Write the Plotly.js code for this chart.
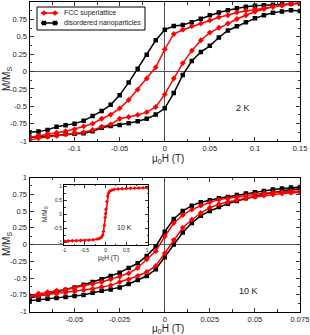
<!DOCTYPE html>
<html><head><meta charset="utf-8">
<script src="https://cdn.plot.ly/plotly-3.0.1.min.js"></script>
<style>html,body{margin:0;padding:0;background:#fff}#c{width:310px;height:335px}</style>
</head><body><div id="c"></div>
<script>
// ---------- DATA ----------
// 2 K panel: field values (T)
const h2Desc = [0.15,0.14,0.13,0.12,0.11,0.10,0.09,0.08,0.07,0.06,0.05,0.04,0.03,0.02,0.01,0.00,-0.01,-0.02,-0.03,-0.04,-0.05,-0.06,-0.07,-0.08,-0.09,-0.10,-0.11,-0.12,-0.13,-0.14,-0.15];
const h2Asc = [-0.15,-0.14,-0.13,-0.12,-0.11,-0.10,-0.09,-0.08,-0.07,-0.06,-0.05,-0.04,-0.03,-0.02,-0.01,0.00,0.01,0.02,0.03,0.04,0.05,0.06,0.07,0.08,0.09,0.10,0.11,0.12,0.13,0.14,0.15];
// FCC superlattice, 2 K
const fcc2Desc = [0.99,0.97,0.95,0.93,0.915,0.90,0.88,0.85,0.81,0.78,0.735,0.69,0.65,0.60,0.54,0.32,0.06,-0.10,-0.26,-0.41,-0.53,-0.62,-0.68,-0.75,-0.79,-0.83,-0.86,-0.88,-0.90,-0.925,-0.95];
const fcc2Asc = [-0.985,-0.96,-0.94,-0.925,-0.905,-0.89,-0.875,-0.84,-0.795,-0.76,-0.68,-0.655,-0.625,-0.585,-0.51,-0.33,-0.10,0.12,0.30,0.45,0.56,0.63,0.69,0.755,0.81,0.86,0.90,0.93,0.955,0.975,0.99];
// disordered nanoparticles, 2 K
const dis2Desc = [0.98,0.975,0.97,0.96,0.955,0.945,0.93,0.91,0.88,0.85,0.81,0.76,0.71,0.67,0.655,0.60,0.45,0.24,0.04,-0.16,-0.34,-0.48,-0.57,-0.64,-0.71,-0.75,-0.775,-0.795,-0.84,-0.865,-0.875];
const dis2Asc = [-0.95,-0.94,-0.93,-0.915,-0.90,-0.895,-0.89,-0.86,-0.81,-0.785,-0.77,-0.745,-0.715,-0.68,-0.62,-0.53,-0.31,-0.05,0.15,0.28,0.37,0.49,0.59,0.65,0.71,0.765,0.81,0.845,0.865,0.88,0.87];

// 10 K panel: field values (T)
const h10Desc = [0.075,0.07,0.065,0.06,0.055,0.05,0.045,0.04,0.035,0.03,0.025,0.02,0.015,0.01,0.005,0.0,-0.005,-0.01,-0.015,-0.02,-0.025,-0.03,-0.035,-0.04,-0.045,-0.05,-0.055,-0.06,-0.065,-0.07,-0.075];
const h10Asc = [-0.075,-0.07,-0.065,-0.06,-0.055,-0.05,-0.045,-0.04,-0.035,-0.03,-0.025,-0.02,-0.015,-0.01,-0.005,0.0,0.005,0.01,0.015,0.02,0.025,0.03,0.035,0.04,0.045,0.05,0.055,0.06,0.065,0.07,0.075];
const fcc10Desc = [0.80,0.795,0.785,0.775,0.765,0.75,0.73,0.71,0.69,0.67,0.63,0.58,0.52,0.44,0.32,0.12,-0.10,-0.22,-0.35,-0.43,-0.48,-0.52,-0.56,-0.59,-0.62,-0.65,-0.67,-0.69,-0.71,-0.73,-0.76];
const fcc10Asc = [-0.78,-0.765,-0.75,-0.735,-0.72,-0.70,-0.68,-0.66,-0.635,-0.61,-0.56,-0.52,-0.47,-0.41,-0.32,-0.13,0.07,0.25,0.37,0.47,0.55,0.60,0.635,0.665,0.69,0.71,0.73,0.745,0.76,0.77,0.78];
const dis10Desc = [0.86,0.85,0.835,0.82,0.80,0.78,0.76,0.74,0.71,0.69,0.66,0.63,0.58,0.50,0.38,0.19,-0.03,-0.17,-0.28,-0.35,-0.42,-0.47,-0.52,-0.56,-0.60,-0.64,-0.68,-0.71,-0.74,-0.77,-0.80];
const dis10Asc = [-0.84,-0.825,-0.81,-0.80,-0.785,-0.77,-0.755,-0.72,-0.69,-0.67,-0.64,-0.59,-0.53,-0.47,-0.37,-0.19,0.0,0.18,0.32,0.43,0.50,0.56,0.61,0.65,0.69,0.72,0.75,0.78,0.80,0.82,0.83];

// inset (10 K, wide field range)
const hInset = [-1,-0.9,-0.8,-0.7,-0.6,-0.5,-0.4,-0.3,-0.2,-0.15,-0.1,-0.07,-0.05,-0.03,-0.01,0,0.01,0.03,0.05,0.07,0.1,0.15,0.2,0.3,0.4,0.5,0.6,0.7,0.8,0.9,1];
const mInset = [-0.96,-0.955,-0.95,-0.945,-0.94,-0.935,-0.925,-0.91,-0.89,-0.87,-0.82,-0.75,-0.62,-0.40,-0.12,0.02,0.18,0.45,0.64,0.75,0.82,0.86,0.88,0.90,0.91,0.92,0.925,0.93,0.935,0.94,0.945];

// tick labels
const yTickVals = [-1,-0.75,-0.5,-0.25,0,0.25,0.5,0.75,1];
const yTickText = ["-1","-0.75","-0.5","-0.25","0","0.25","0.5","0.75","1"];
const x2TickVals = [-0.1,-0.05,0,0.05,0.1,0.15];
const x2TickText = ["-0.1","-0.05","0","0.05","0.1","0.15"];
const x10TickVals = [-0.05,-0.025,0,0.025,0.05,0.075];
const x10TickText = ["-0.05","-0.025","0","0.025","0.05","0.075"];
const inXVals = [-1,-0.5,0,0.5,1];
const inXText = ["-1","-0.5","0","0.5","1"];
const inYVals = [-1,-0.5,0,0.5,1];
const inYText = ["-1","-0.5","0","0.5","1"];
const seriesNames = ["FCC superlattice","disordered nanoparticles"];

// ---------- LAYOUT ----------
const W = 310, H = 335;
const px = v => v / W;
const py = v => 1 - v / H;
const FONT = "Liberation Sans, Arial, sans-serif";
const RED = "#ff0000", BLACK = "#000000";

function loop(hd, md, ha, ma) { return {x: hd.concat(ha), y: md.concat(ma)}; }

const l2f = loop(h2Desc, fcc2Desc, h2Asc, fcc2Asc);
const l2d = loop(h2Desc, dis2Desc, h2Asc, dis2Asc);
const l10f = loop(h10Desc, fcc10Desc, h10Asc, fcc10Asc);
const l10d = loop(h10Desc, dis10Desc, h10Asc, dis10Asc);

const redMarker = {symbol: "diamond", size: 4.5, color: RED};
const blkMarker = {symbol: "square", size: 4.5, color: BLACK};

const traces = [
  {x: l2d.x, y: l2d.y, xaxis: "x", yaxis: "y", mode: "lines+markers", name: seriesNames[1],
   line: {color: BLACK, width: 1.5}, marker: blkMarker},
  {x: l2f.x, y: l2f.y, xaxis: "x", yaxis: "y", mode: "lines+markers", name: seriesNames[0],
   line: {color: RED, width: 1.5}, marker: redMarker},
  {x: l10d.x, y: l10d.y, xaxis: "x2", yaxis: "y2", mode: "lines+markers",
   line: {color: BLACK, width: 1.5}, marker: blkMarker},
  {x: l10f.x, y: l10f.y, xaxis: "x2", yaxis: "y2", mode: "lines+markers",
   line: {color: RED, width: 1.5}, marker: redMarker},
  {x: hInset, y: mInset, xaxis: "x3", yaxis: "y3", mode: "lines+markers",
   line: {color: RED, width: 1.6}, marker: {symbol: "diamond", size: 3, color: RED}}
];

const tickFont = {family: FONT, size: 7.5, color: "#222"};
function axisBase(extra) {
  return Object.assign({
    showgrid: false, showline: true, linecolor: "#000", linewidth: 1, mirror: "ticks",
    ticks: "inside", ticklen: 4, tickwidth: 1, tickcolor: "#333",
    zeroline: true, zerolinecolor: "#555", zerolinewidth: 1,
    tickfont: tickFont, tickmode: "array", fixedrange: true
  }, extra);
}

// manual legend (compact, like the original)
const legendShapes = [];
const legendAnn = [];
function diamondPath(cx, cy, r) {
  return "M" + px(cx) + "," + py(cy - r) + " L" + px(cx + r) + "," + py(cy) +
         " L" + px(cx) + "," + py(cy + r) + " L" + px(cx - r) + "," + py(cy) + " Z";
}
legendShapes.push({type: "rect", xref: "paper", yref: "paper", x0: px(37), x1: px(145), y0: py(30), y1: py(7),
  line: {color: "#000", width: 1}, fillcolor: "#fff", layer: "above"});
const legRows = [{y: 13, color: RED, kind: "diamond", name: seriesNames[0]},
                 {y: 23, color: BLACK, kind: "square", name: seriesNames[1]}];
legRows.forEach(r => {
  legendShapes.push({type: "line", xref: "paper", yref: "paper", x0: px(41), x1: px(58), y0: py(r.y), y1: py(r.y),
    line: {color: r.color, width: 1.5}, layer: "above"});
  [44, 55].forEach(cx => {
    if (r.kind === "diamond") {
      legendShapes.push({type: "path", xref: "paper", yref: "paper", path: diamondPath(cx, r.y, 2.6),
        fillcolor: r.color, line: {color: r.color, width: 0.5}, layer: "above"});
    } else {
      legendShapes.push({type: "rect", xref: "paper", yref: "paper", x0: px(cx - 2), x1: px(cx + 2),
        y0: py(r.y + 2), y1: py(r.y - 2), fillcolor: r.color, line: {color: r.color, width: 0.5}, layer: "above"});
    }
  });
  legendAnn.push({text: r.name, x: px(62), y: py(r.y), xref: "paper", yref: "paper", xanchor: "left", yanchor: "middle",
    showarrow: false, font: {family: FONT, size: 7, color: "#222"}});
});

function ann(text, x, y, size, extra) {
  return Object.assign({text: text, x: px(x), y: py(y), xref: "paper", yref: "paper",
    xanchor: "center", yanchor: "middle", showarrow: false,
    font: {family: FONT, size: size, color: "#222"}}, extra || {});
}

const layout = {
  width: W, height: H,
  margin: {l: 0, r: 0, t: 0, b: 0},
  paper_bgcolor: "#fff", plot_bgcolor: "#fff",
  font: {family: FONT, color: "#000"},
  showlegend: false,
  xaxis: axisBase({domain: [px(29.5), px(300)], anchor: "y", range: [-0.15, 0.15],
    tickvals: x2TickVals, ticktext: x2TickText,
    minor: {tickmode: "linear", tick0: 0, dtick: 0.025, ticklen: 2.5, ticks: "inside", tickcolor: "#333"}}),
  yaxis: axisBase({domain: [py(141), py(2)], anchor: "x", range: [-1, 1],
    tickvals: yTickVals, ticktext: yTickText,
    minor: {tickmode: "linear", tick0: 0, dtick: 0.125, ticklen: 2.5, ticks: "inside", tickcolor: "#333"}}),
  xaxis2: axisBase({domain: [px(29.5), px(300)], anchor: "y2", range: [-0.075, 0.075],
    tickvals: x10TickVals, ticktext: x10TickText,
    minor: {tickmode: "linear", tick0: 0, dtick: 0.0125, ticklen: 2.5, ticks: "inside", tickcolor: "#333"}}),
  yaxis2: axisBase({domain: [py(311.5), py(177.5)], anchor: "x2", range: [-1, 1],
    tickvals: yTickVals, ticktext: yTickText,
    minor: {tickmode: "linear", tick0: 0, dtick: 0.125, ticklen: 2.5, ticks: "inside", tickcolor: "#333"}}),
  xaxis3: axisBase({domain: [px(64), px(148)], anchor: "y3", range: [-1, 1.02],
    tickvals: inXVals, ticktext: inXText, zeroline: false, ticklen: 3,
    tickfont: {family: FONT, size: 5, color: "#222"},
    minor: {tickmode: "linear", tick0: 0, dtick: 0.25, ticklen: 1.5, ticks: "inside", tickcolor: "#333"}}),
  yaxis3: axisBase({domain: [py(245), py(184.5)], anchor: "x3", range: [-1.1, 1.06],
    tickvals: inYVals, ticktext: inYText, zeroline: false, ticklen: 3,
    tickfont: {family: FONT, size: 5, color: "#222"},
    minor: {tickmode: "linear", tick0: 0, dtick: 0.25, ticklen: 1.5, ticks: "inside", tickcolor: "#333"}}),
  shapes: legendShapes,
  annotations: legendAnn.concat([
    ann("μ<sub>0</sub>H (T)", 168, 159, 10),
    ann("μ<sub>0</sub>H (T)", 168, 329, 10),
    ann("M/M<sub>S</sub>", 7, 79, 10, {textangle: -90}),
    ann("M/M<sub>S</sub>", 7, 244, 10, {textangle: -90}),
    ann("2 K", 243, 108, 9),
    ann("10 K", 248, 291, 9),
    ann("10 K", 124, 227, 7),
    ann("M/M<sub>S</sub>", 45, 214, 6.5, {textangle: -90}),
    ann("μ<sub>0</sub>H (T)", 108, 258, 6.5)
  ])
};

Plotly.newPlot("c", traces, layout, {staticPlot: true, displayModeBar: false});
</script>
</body></html>
